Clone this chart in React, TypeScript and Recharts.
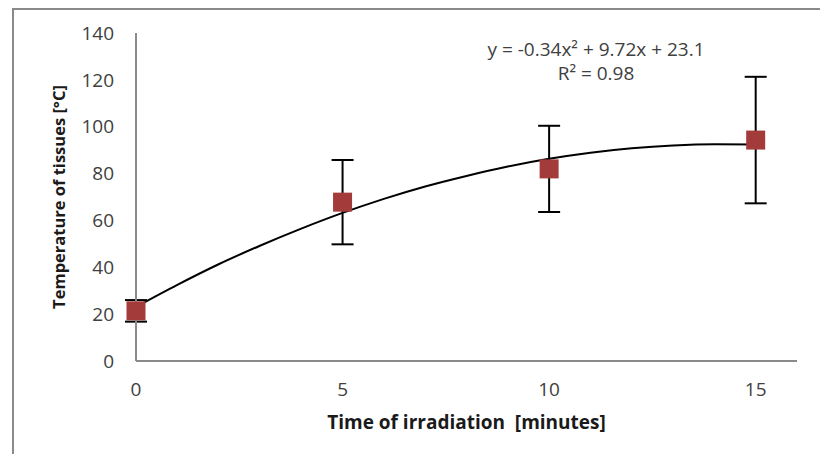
import React from 'react'
import { ComposedChart, Scatter, Line, XAxis, YAxis, ErrorBar, Label } from 'recharts'

// measured points with error bars
const minutes = [0, 5, 10, 15]
const meanTemp = [21.4, 67.8, 82, 94.3]
const tempError = [4.6, 18, 18.4, 27]

// polynomial trend line
const fitMinutes = [0, 1, 2, 3, 4, 5, 6, 7, 8, 9, 10, 11, 12, 13, 14, 15]
const fitTemp = [23.1, 32.5, 41.3, 49.2, 56.5, 63.2, 69.2, 74.5, 79.0, 83.0, 86.3, 88.9, 90.8, 92.0, 92.5, 92.4]

const xTicks = [0, 5, 10, 15]
const yTicks = [0, 20, 40, 60, 80, 100, 120, 140]

const points = minutes.map((m, i) => ({ x: m, y: meanTemp[i], err: tempError[i] }))
const trend = fitMinutes.map((m, i) => ({ x: m, y: fitTemp[i] }))

const font = '"Open Sans", sans-serif'

const SquareMarker = (props: any) => {
  const { cx, cy } = props
  const s = 19
  return <rect x={cx - s / 2} y={cy - s / 2} width={s} height={s} fill="#A33B3B" />
}

export default function App() {
  return (
    <div style={{ position: 'fixed', left: 0, top: 0, width: 820, height: 454, overflow: 'hidden', background: '#fff', fontFamily: font }}>
      <div style={{ position: 'absolute', left: 12, top: 8, width: 900, height: 600, borderTop: '2px solid #8a8a8a', borderLeft: '2px solid #8a8a8a' }} />
      <ComposedChart
        width={820}
        height={454}
        margin={{ top: 33, right: 23, bottom: 25, left: 40 }}
        style={{ position: 'absolute', left: 0, top: 0 }}
      >
        <XAxis
          type="number"
          dataKey="x"
          domain={[0, 16]}
          ticks={xTicks}
          height={68}
          tickLine={false}
          tickSize={0}
          tickMargin={22}
          axisLine={{ stroke: '#8a8a8a', strokeWidth: 2 }}
          tick={{ fontSize: 19, fill: '#404040', fontFamily: font }}
        >
          <Label
            value={'Time of irradiation\u00a0\u00a0[minutes]'}
            position="insideBottom"
            offset={0}
            style={{ fontSize: 19, fontWeight: 'bold', fill: '#1a1a1a', fontFamily: font }}
          />
        </XAxis>
        <YAxis
          type="number"
          domain={[0, 140]}
          ticks={yTicks}
          width={96}
          tickLine={false}
          tickSize={0}
          tickMargin={22}
          axisLine={{ stroke: '#8a8a8a', strokeWidth: 2 }}
          tick={{ fontSize: 19, fill: '#404040', fontFamily: font }}
        >
          <Label
            value="Temperature of tissues [°C]"
            angle={-90}
            position="insideLeft"
            offset={19}
            style={{ fontSize: 16.5, fontWeight: 'bold', fill: '#1a1a1a', fontFamily: font, textAnchor: 'middle' }}
          />
        </YAxis>
        <Line
          data={trend}
          dataKey="y"
          type="monotone"
          stroke="#000"
          strokeWidth={2}
          dot={false}
          activeDot={false}
          isAnimationActive={false}
        />
        <Scatter data={points} dataKey="y" shape={SquareMarker} isAnimationActive={false}>
          <ErrorBar dataKey="err" direction="y" width={11} stroke="#000" strokeWidth={2} isAnimationActive={false} />
        </Scatter>
      </ComposedChart>
      <div style={{ position: 'absolute', left: 446, top: 39, width: 300, textAlign: 'center', fontSize: 19, lineHeight: '20px', color: '#404040' }}>
        y = -0.34x² + 9.72x + 23.1
      </div>
      <div style={{ position: 'absolute', left: 446, top: 63, width: 300, textAlign: 'center', fontSize: 19, lineHeight: '20px', color: '#404040' }}>
        R² = 0.98
      </div>
    </div>
  )
}
